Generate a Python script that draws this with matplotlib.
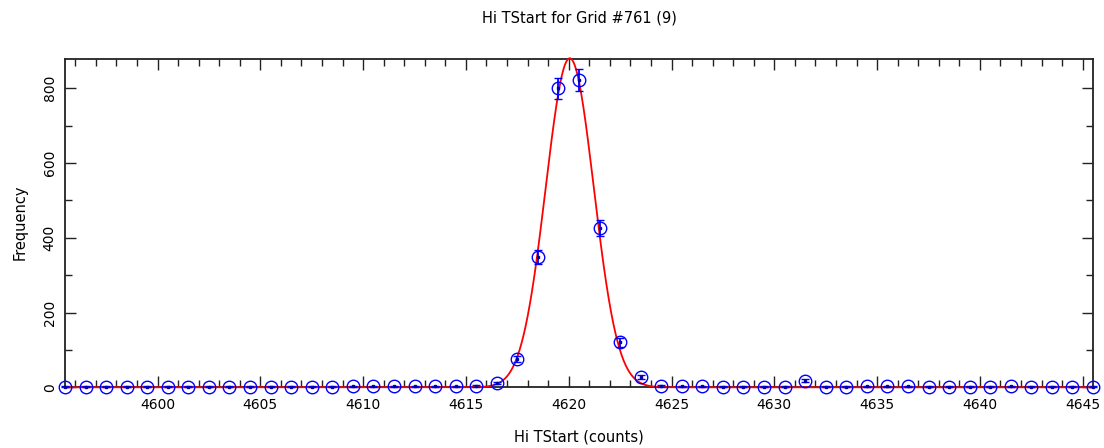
import numpy as np
import matplotlib
matplotlib.use("Agg")
import matplotlib.pyplot as plt
from matplotlib.ticker import MultipleLocator

# Bin centres (counts) and frequencies
bin_centers = [4595.5 + i for i in range(51)]
frequency = [2, 2, 2, 2, 2, 2, 2, 2, 2, 2,
             2, 2, 2, 2, 3, 3, 3, 3, 3, 3,
             4, 11, 76, 348, 800, 822, 426, 120, 27, 4,
             3, 3, 2, 2, 2, 2, 17, 2, 2, 3,
             3, 3, 2, 2, 2, 2, 3, 2, 2, 2, 2]
errors = [np.sqrt(max(v, 1)) for v in frequency]

# Gaussian fit parameters (red curve)
fit_amp = 880.0
fit_mu = 4620.05
fit_sigma = 1.17

title = "Hi TStart for Grid #761 (9)"
xlabel = "Hi TStart (counts)"
ylabel = "Frequency"

fig = plt.figure(figsize=(11.04, 4.48), dpi=100)
ax = fig.add_axes([65/1104, 1-387.3/448, (1093-65)/1104, (387.3-59)/448])

xf = np.linspace(4595.5, 4645.5, 2000)
yf = fit_amp * np.exp(-(xf - fit_mu)**2 / (2 * fit_sigma**2))
ax.plot(xf, yf, color="red", lw=1.3, zorder=3, clip_on=False)

ax.errorbar(bin_centers, frequency, yerr=errors, fmt="o", mfc="none",
            mec="blue", ecolor="blue", ms=9, mew=1.0, elinewidth=1.3,
            capsize=3, capthick=1.3, zorder=4, clip_on=False)
ax.plot(bin_centers, frequency, ls="none", marker="s", ms=2, color="#0000aa",
        zorder=5, clip_on=False)

ax.set_xlim(4595.5, 4645.5)
ax.set_ylim(0, 878)
ax.xaxis.set_major_locator(MultipleLocator(5))
ax.xaxis.set_minor_locator(MultipleLocator(1))
ax.yaxis.set_major_locator(MultipleLocator(200))
ax.yaxis.set_minor_locator(MultipleLocator(100))
ax.tick_params(which="both", direction="in", top=True, right=True,
               color="#222222", width=1.0, labelsize=10)
ax.tick_params(which="major", length=8, pad=8)
ax.tick_params(which="minor", length=5)
ax.tick_params(axis="y", labelrotation=90, pad=6)
for lbl in ax.get_yticklabels():
    lbl.set_va("center")
for s in ax.spines.values():
    s.set_color("#222222")
    s.set_linewidth(1.3)

fig.text(579/1104, 1-18/448, title, ha="center", va="center", fontsize=10.5)
fig.text(579/1104, 1-437/448, xlabel, ha="center", va="center", fontsize=10.5)
fig.text(20/1104, 1-222/448, ylabel, ha="center", va="center", fontsize=10.5,
         rotation=90)

fig.savefig("out.png", dpi=100)
